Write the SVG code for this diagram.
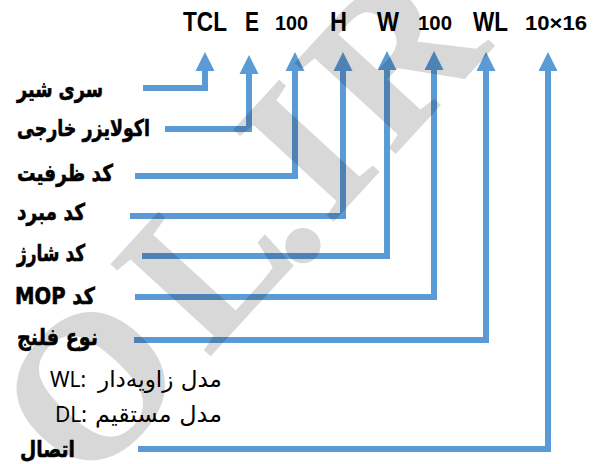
<svg xmlns="http://www.w3.org/2000/svg" width="603" height="464" viewBox="0 0 603 464">
<defs>
<style>
.code{font-family:"Liberation Sans",Arial,sans-serif;font-weight:bold;fill:#000}
.cap{font-size:27px}
.num{font-size:21px}
.lbl{font-family:"DejaVu Sans","Noto Sans",sans-serif;font-weight:bold;font-size:23px;fill:#000;stroke:#000;stroke-width:0.6}
.leg{font-family:"Noto Sans","DejaVu Sans",sans-serif;font-size:21px;fill:#000}
.legp{font-family:"DejaVu Sans","Noto Sans",sans-serif;font-size:23px;fill:#000}
.ln{fill:none;stroke:#5B9BD5;stroke-width:6;stroke-linejoin:miter;marker-end:url(#ah)}
.wm{font-family:"Liberation Serif",serif;font-weight:bold;font-size:205px;fill:#000;stroke:#000;stroke-width:2}
</style>
<marker id="ah" markerUnits="userSpaceOnUse" markerWidth="20" markerHeight="20" viewBox="0 0 20 20" refX="1" refY="10" orient="auto">
<path d="M0,0.5 L19,10 L0,19.5 z" fill="#5B9BD5"/>
</marker>
</defs>
<rect width="603" height="464" fill="#fff"/>

<g id="code">
<text class="code cap" x="183" y="31" textLength="44" lengthAdjust="spacingAndGlyphs">TCL</text>
<text class="code cap" x="245" y="31" textLength="14" lengthAdjust="spacingAndGlyphs">E</text>
<text class="code num" x="275" y="30" textLength="33" lengthAdjust="spacingAndGlyphs">100</text>
<text class="code cap" x="330" y="31" textLength="17" lengthAdjust="spacingAndGlyphs">H</text>
<text class="code cap" x="377" y="31" textLength="22" lengthAdjust="spacingAndGlyphs">W</text>
<text class="code num" x="418" y="30" textLength="34" lengthAdjust="spacingAndGlyphs">100</text>
<text class="code cap" x="473" y="31" textLength="35" lengthAdjust="spacingAndGlyphs">WL</text>
<text class="code num" x="525" y="30" textLength="62" lengthAdjust="spacingAndGlyphs">10×16</text>
</g>

<g id="connectors">
<path class="ln" d="M143,88 H205 V70"/>
<path class="ln" d="M165,129 H249 V73"/>
<path class="ln" d="M135,176 H295 V70"/>
<path class="ln" d="M130,216 H343 V70"/>
<path class="ln" d="M142,256 H387 V69"/>
<path class="ln" d="M135,297 H434 V69"/>
<path class="ln" d="M134,340 H486 V70"/>
<path class="ln" d="M138,449 H548 V70"/>
</g>

<g id="label-series"><text class="lbl" direction="rtl" text-anchor="end" x="17" y="97" textLength="86" lengthAdjust="spacingAndGlyphs">سری شیر</text></g>
<g id="label-equalizer"><text class="lbl" direction="rtl" text-anchor="end" x="17" y="136" textLength="133" lengthAdjust="spacingAndGlyphs">اکولایزر خارجی</text></g>
<g id="label-capacity"><text class="lbl" direction="rtl" text-anchor="end" x="17" y="181" textLength="96" lengthAdjust="spacingAndGlyphs">کد ظرفیت</text></g>
<g id="label-refrigerant"><text class="lbl" direction="rtl" text-anchor="end" x="17" y="220" textLength="68" lengthAdjust="spacingAndGlyphs">کد مبرد</text></g>
<g id="label-charge"><text class="lbl" direction="rtl" text-anchor="end" x="17" y="261" textLength="68" lengthAdjust="spacingAndGlyphs">کد شارژ</text></g>
<g id="label-mop"><text class="lbl" direction="rtl" text-anchor="end" x="15" y="304" textLength="80" lengthAdjust="spacingAndGlyphs">کد MOP</text></g>
<g id="label-flange"><text class="lbl" direction="rtl" text-anchor="end" x="17" y="345" textLength="81" lengthAdjust="spacingAndGlyphs">نوع فلنج</text></g>
<g id="legend-wl">
<text class="leg" x="50" y="387">WL:</text>
<text class="legp" direction="rtl" text-anchor="start" x="222" y="387" textLength="124" lengthAdjust="spacingAndGlyphs">مدل زاویه‌دار</text>
</g>
<g id="legend-dl">
<text class="leg" x="55" y="422">DL:</text>
<text class="legp" direction="rtl" text-anchor="start" x="222" y="422" textLength="127" lengthAdjust="spacingAndGlyphs">مدل مستقیم</text>
</g>
<g id="label-connection"><text class="lbl" direction="rtl" text-anchor="end" x="20" y="457" textLength="55" lengthAdjust="spacingAndGlyphs">اتصال</text></g>

<g id="watermark" opacity="0.15">
<text class="wm" transform="rotate(-47.5)" x="-303 -123 -2 56 150" y="395 395 403 395 395">OL.IR</text>
</g>
</svg>
